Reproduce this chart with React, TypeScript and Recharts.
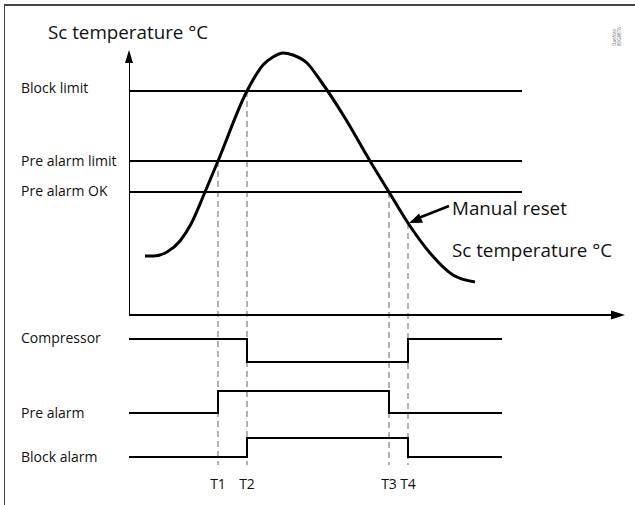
import React from "react";
import { ComposedChart, Line, XAxis, YAxis, ReferenceLine, ReferenceDot } from "recharts";

// ---- data (time units on x, temperature units on y) ----
const curveTime = [4, 6, 9.5, 12.75, 15.5, 19, 22.25, 29.5, 33.5, 36, 38.5, 41, 44.5, 47.75, 54, 60.25, 65, 69.75, 75.25, 81, 86.5];
const curveTemp = [11.8, 11.8, 12.6, 14.8, 18.2, 24.6, 30.8, 44.8, 50, 51.6, 52.4, 52, 50.4, 47, 39.4, 30.8, 24.6, 18.4, 12.4, 8, 6.6];

const limitNames = ["Block limit", "Pre alarm limit", "Pre alarm OK"];
const limitValues = [44.8, 30.8, 24.6];
const limitEnd = 98.25;

const eventNames = ["T1", "T2", "T3", "T4"];
const eventTimes = [22.25, 29.5, 65, 69.75];
const eventTemps = [30.8, 44.8, 24.6, 18.4];
const eventBottomTemp = -30;

const signalEnd = 93.25;
const compressorTimes = [0, 29.5, 69.75, signalEnd];
const compressorStates = [1, 0, 1, 1];
const preAlarmTimes = [0, 22.25, 65, signalEnd];
const preAlarmStates = [0, 1, 0, 0];
const blockAlarmTimes = [0, 29.5, 69.75, signalEnd];
const blockAlarmStates = [0, 1, 0, 0];

const xMax = 124;
const yAxisTop = 53;
const xAxisArrowEnd = 124;
const manualResetTail = { t: 80, v: 21.8 };

// ---- layout ----
const W = 635;
const H = 505;
const FONT = "'Open Sans', sans-serif";

function signalDomain(highPx: number, lowPx: number): [number, number] {
  const s = lowPx - highPx;
  const lo = -(H - lowPx) / s;
  return [lo, lo + H / s];
}

const zip = (ts: number[], vs: number[]) => ts.map((t, i) => ({ t, v: vs[i] }));

const curveData = zip(curveTime, curveTemp);
const compressorData = zip(compressorTimes, compressorStates);
const preAlarmData = zip(preAlarmTimes, preAlarmStates);
const blockAlarmData = zip(blockAlarmTimes, blockAlarmStates);

const lineCommon = {
  dataKey: "v",
  dot: false,
  activeDot: false,
  isAnimationActive: false,
  stroke: "#000",
  legendType: "none" as const,
};

const labelStyle = { fontFamily: FONT, fontSize: 14, fill: "#111" };
const bigStyle = { fontFamily: FONT, fontSize: 18.8, fill: "#111" };

export default function App() {
  return (
    <div style={{ position: "absolute", left: 0, top: 0, width: W, height: H, background: "#fff", overflow: "hidden" }}>
      <div style={{ position: "absolute", left: 4, top: 4, width: 700, height: 600, borderTop: "2px solid #444", borderLeft: "1.5px solid #444" }} />
      <div style={{ position: "absolute", left: 0, top: 0 }}>
        <ComposedChart width={W} height={H} margin={{ top: 0, right: 10, bottom: 0, left: 129 }}>
          <XAxis type="number" dataKey="t" domain={[0, xMax]} hide allowDataOverflow />
          <YAxis yAxisId="temp" type="number" domain={[-38, 63]} hide allowDataOverflow />
          <YAxis yAxisId="comp" type="number" domain={signalDomain(339, 362)} hide allowDataOverflow />
          <YAxis yAxisId="pre" type="number" domain={signalDomain(391, 413)} hide allowDataOverflow />
          <YAxis yAxisId="block" type="number" domain={signalDomain(438, 457)} hide allowDataOverflow />

          {eventTimes.map((t, i) => (
            <ReferenceLine
              key={"ev" + i}
              yAxisId="temp"
              segment={[{ x: t, y: eventTemps[i] }, { x: t, y: eventBottomTemp }]}
              stroke="#999"
              strokeWidth={1.5}
              strokeDasharray="6 4"
              label={{ value: eventNames[i], position: "bottom", offset: 14, fontFamily: FONT, fontSize: 14, fill: "#111" }}
            />
          ))}

          {limitValues.map((v, i) => (
            <Line
              key={"lim" + i}
              {...lineCommon}
              yAxisId="temp"
              data={[{ t: 0, v }, { t: limitEnd, v }]}
              strokeWidth={2}
            />
          ))}

          {/* axes */}
          <Line {...lineCommon} yAxisId="temp" data={[{ t: 0, v: 0 }, { t: 0, v: yAxisTop - 2 }]} strokeWidth={2} />
          <Line {...lineCommon} yAxisId="temp" data={[{ t: 0, v: 0 }, { t: xAxisArrowEnd - 3, v: 0 }]} strokeWidth={2} />
          <ReferenceDot
            yAxisId="temp"
            x={0}
            y={yAxisTop}
            shape={(p: any) => (
              <polygon points={`${p.cx},${p.cy} ${p.cx - 4},${p.cy + 13} ${p.cx + 4},${p.cy + 13}`} fill="#000" />
            )}
          />
          <ReferenceDot
            yAxisId="temp"
            x={xAxisArrowEnd}
            y={0}
            shape={(p: any) => (
              <polygon points={`${p.cx},${p.cy} ${p.cx - 14},${p.cy - 4.5} ${p.cx - 14},${p.cy + 4.5}`} fill="#000" />
            )}
          />

          {/* temperature curve */}
          <Line {...lineCommon} yAxisId="temp" data={curveData} type="monotone" strokeWidth={3} />

          {/* manual reset arrow */}
          <Line
            {...lineCommon}
            yAxisId="temp"
            data={[{ t: eventTimes[3] + 2, v: eventTemps[3] + 0.8 }, manualResetTail]}
            strokeWidth={2.5}
          />
          <ReferenceDot
            yAxisId="temp"
            x={eventTimes[3]}
            y={eventTemps[3]}
            shape={(p: any) => (
              <polygon
                points="0,0 13,-5 13,5"
                transform={`translate(${p.cx + 1},${p.cy}) rotate(-22.5)`}
                fill="#000"
              />
            )}
          />

          {/* digital signals */}
          <Line {...lineCommon} yAxisId="comp" data={compressorData} type="stepAfter" strokeWidth={2} />
          <Line {...lineCommon} yAxisId="pre" data={preAlarmData} type="stepAfter" strokeWidth={2} />
          <Line {...lineCommon} yAxisId="block" data={blockAlarmData} type="stepAfter" strokeWidth={2} />

          {/* texts */}
          <text x={48} y={39} style={bigStyle}>Sc temperature °C</text>
          <text x={21} y={93} style={labelStyle}>{limitNames[0]}</text>
          <text x={21} y={166} style={labelStyle}>{limitNames[1]}</text>
          <text x={21} y={196} style={labelStyle}>{limitNames[2]}</text>
          <text x={21} y={343} style={labelStyle}>Compressor</text>
          <text x={21} y={418} style={labelStyle}>Pre alarm</text>
          <text x={21} y={462} style={labelStyle}>Block alarm</text>
          <text x={452} y={215} style={bigStyle}>Manual reset</text>
          <text x={452} y={257} style={bigStyle}>Sc temperature °C</text>
          <text transform="translate(616,46) rotate(-90)" style={{ fontFamily: FONT, fontSize: 4.5, fill: "#666" }}>
            <tspan x={0} y={0}>Danfoss</tspan>
            <tspan x={0} y={5}>80G8876</tspan>
          </text>
        </ComposedChart>
      </div>
    </div>
  );
}
